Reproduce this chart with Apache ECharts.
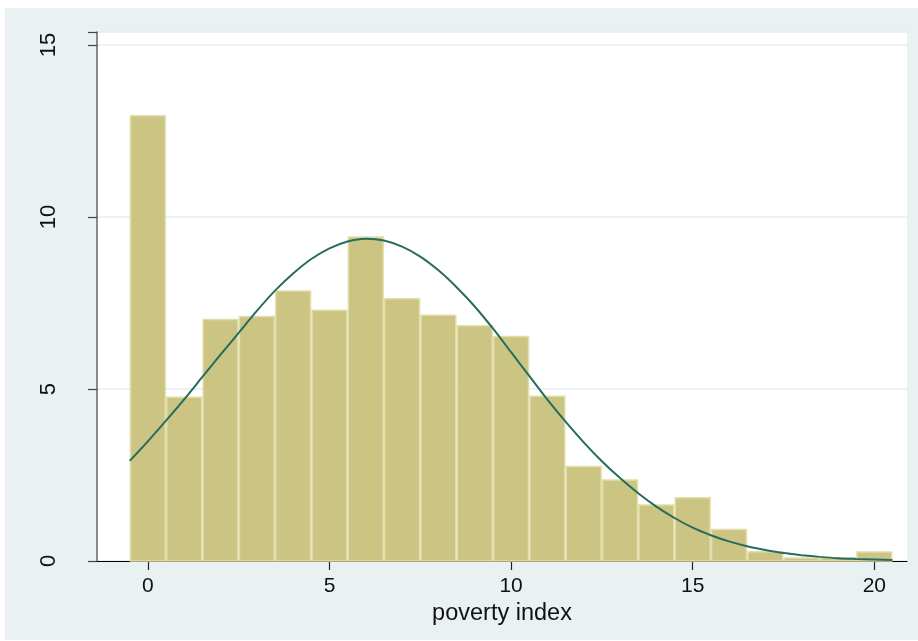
<!DOCTYPE html>
<html>
<head>
<meta charset="utf-8">
<script src="https://cdn.jsdelivr.net/npm/echarts@6/dist/echarts.min.js"></script>
<style>
html,body{margin:0;padding:0;background:#fff;}
#chart{width:918px;height:641px;}
</style>
</head>
<body>
<div id="chart"></div>
<script>
// Histogram bins (centres) and heights
var binCenters = [0,1,2,3,4,5,6,7,8,9,10,11,12,13,14,15,16,17,18,19,20];
var binHeights = [12.97,4.78,7.04,7.13,7.87,7.31,9.44,7.65,7.17,6.86,6.55,4.81,2.77,2.38,1.65,1.86,0.94,0.29,0.11,0.11,0.28];
var binWidth = 1;

// Normal density overlay, every 0.5 units
var curveX = [-0.5,0,0.5,1,1.5,2,2.5,3,3.5,4,4.5,5,5.5,6,6.5,7,7.5,8,8.5,9,9.5,10,10.5,11,11.5,12,12.5,13,13.5,14,14.5,15,15.5,16,16.5,17,17.5,18,18.5,19,19.5,20,20.5];
var curveY = [2.91,3.48,4.08,4.70,5.35,6.00,6.63,7.27,7.86,8.36,8.78,9.09,9.29,9.37,9.32,9.14,8.85,8.45,7.96,7.40,6.76,6.07,5.38,4.69,4.05,3.45,2.90,2.41,1.97,1.58,1.25,0.97,0.75,0.57,0.43,0.32,0.23,0.17,0.12,0.08,0.06,0.045,0.03];

var xTicks = [0,5,10,15,20];
var yTicks = [0,5,10,15];
var xTitle = 'poverty index';

var FONT = '"Liberation Sans", Arial, Helvetica, sans-serif';
var chart = echarts.init(document.getElementById('chart'), null, {renderer:'canvas'});

var barData = binCenters.map(function(c,i){ return [c, binHeights[i]]; });
var curveData = curveX.map(function(x,i){ return [x, curveY[i]]; });

chart.setOption({
  animation: false,
  backgroundColor: '#ffffff',
  graphic: [{
    type: 'rect', z: -10, silent: true,
    shape: {x: 5, y: 8, width: 913, height: 632},
    style: {fill: '#EAF1F3'}
  }],
  grid: {
    left: 97, right: 11, top: 32, bottom: 80,
    show: true, backgroundColor: '#ffffff', borderWidth: 0
  },
  xAxis: {
    type: 'value', min: -1.4, max: 20.9,
    name: xTitle, nameLocation: 'middle', nameGap: 37,
    nameTextStyle: {fontFamily: FONT, fontSize: 23.5, color: '#111'},
    axisLine: {show: true, onZero: false, lineStyle: {color: '#000', width: 1.2}},
    axisTick: {show: true, length: 9, customValues: xTicks, lineStyle: {color: '#222', width: 1.2}},
    axisLabel: {customValues: xTicks, margin: 15, fontFamily: FONT, fontSize: 21, color: '#111'},
    splitLine: {show: false}
  },
  yAxis: {
    type: 'value', min: 0, max: 15.38, interval: 5,
    axisLine: {show: true, onZero: false, lineStyle: {color: '#666', width: 1.5}},
    axisTick: {show: true, length: 9, lineStyle: {color: '#444', width: 1.2}},
    axisLabel: {rotate: 90, margin: 37, fontFamily: FONT, fontSize: 22, color: '#111',
      formatter: function(v){ return yTicks.indexOf(v) >= 0 ? String(v) : ''; }},
    splitLine: {show: true, lineStyle: {color: '#E6EEF1', width: 1.5}}
  },
  series: [{
    type: 'custom',
    data: barData,
    z: 2,
    renderItem: function(params, api){
      var c = api.value(0), h = api.value(1);
      var p1 = api.coord([c - binWidth/2, h]);
      var p2 = api.coord([c + binWidth/2, 0]);
      return {
        type: 'rect',
        shape: {x: p1[0] + 0.75, y: p1[1] + 0.75, width: p2[0] - p1[0] - 1.5, height: p2[1] - p1[1] - 0.75},
        style: {fill: '#CBC483', stroke: '#E2DEAA', lineWidth: 1.5}
      };
    }
  }, {
    type: 'line',
    data: curveData,
    smooth: 0.3,
    showSymbol: false,
    symbol: 'none',
    z: 5,
    lineStyle: {color: '#266C60', width: 2}
  }]
});
</script>
</body>
</html>
